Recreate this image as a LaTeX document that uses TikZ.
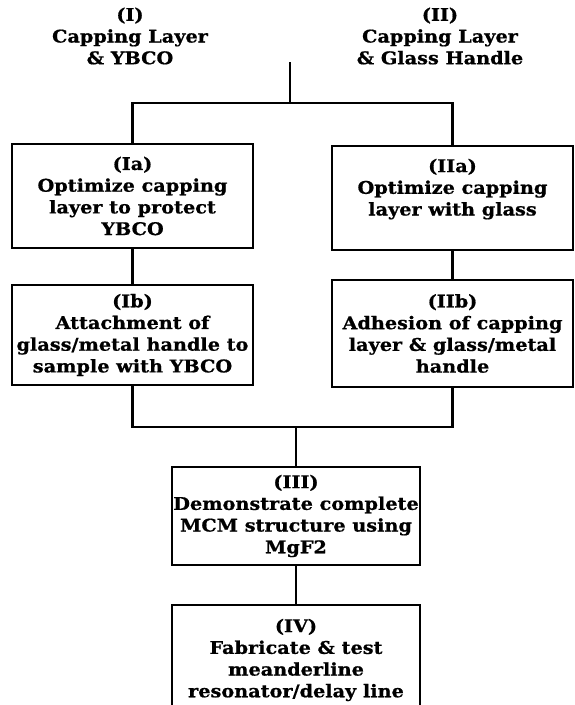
\documentclass[tikz,border=0pt]{standalone}
\usepackage{fontspec}
\setmainfont{DejaVu Serif}[FakeStretch=1.1, BoldFeatures={FakeBold=0.8}]
\begin{document}
\begin{tikzpicture}[x=1pt,y=-1pt,
  txt/.style={font=\bfseries\fontsize{17.5}{21.7}\selectfont, align=center, inner sep=0pt},
  box/.style={txt, draw, line width=2.2pt, minimum width=241pt},
  conn/.style={line width=2.4pt}]
\useasboundingbox (0,0) rectangle (574,705);
\clip (0,0) rectangle (574,705);
% headings
\node[txt] (h1) at (130,36) {(I)\\Capping Layer\\\& YBCO};
\node[txt] (h2) at (440,36) {(II)\\Capping Layer\\\& Glass Handle};
% boxes
\node[box, minimum height=104pt] (Ia) at (132.5,196) {(Ia)\\Optimize capping\\layer to protect\\YBCO};
\node[box, minimum height=104pt] (IIa) at (452.5,198) {(IIa)\\Optimize capping\\layer with glass\\~};
\node[box, minimum height=100pt] (Ib) at (132.5,335) {(Ib)\\Attachment of\\glass/metal handle to\\sample with YBCO};
\node[box, minimum height=107pt] (IIb) at (452.5,333.5) {(IIb)\\Adhesion of capping\\layer \& glass/metal\\handle};
\node[box, minimum width=248pt, minimum height=98pt] (III) at (296,516) {(III)\\Demonstrate complete\\MCM structure using\\MgF2};
\node[box, minimum width=248pt, minimum height=110pt] (IV) at (296,660) {(IV)\\Fabricate \& test\\meanderline\\resonator/delay line};
% connectors
\coordinate (top) at (290,62);
\coordinate (tj) at (290,103);
\coordinate (bj) at (296,427);
\draw[conn] (top) -- (tj);
\draw[conn] (tj) -| (Ia.north);
\draw[conn] (tj) -| (IIa.north);
\draw[conn] (Ia) -- (Ib);
\draw[conn] (IIa) -- (IIb);
\draw[conn] (Ib.south) |- (bj);
\draw[conn] (IIb.south) |- (bj);
\draw[conn] (bj) -- (III.north);
\draw[conn] (III) -- (IV);
\end{tikzpicture}
\end{document}
